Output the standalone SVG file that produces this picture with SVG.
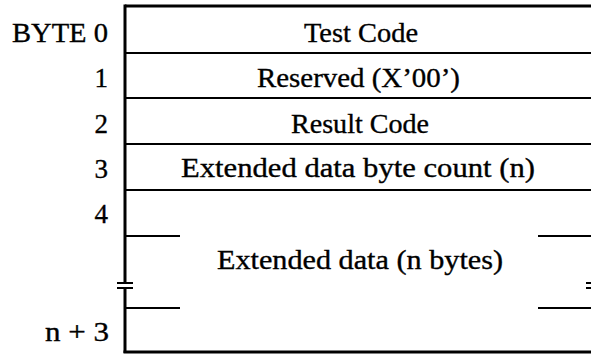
<svg xmlns="http://www.w3.org/2000/svg" width="591" height="354" viewBox="0 0 591 354">
<style>
  text { font-family: "Liberation Serif", "Times New Roman", serif; font-size: 27px; fill: #000; stroke: #000; stroke-width: 0.35; }
  .c { text-anchor: middle; }
  .r { text-anchor: end; }
  .outer { stroke: #000; stroke-width: 3; fill: none; }
  .inner { stroke: #000; stroke-width: 2; fill: none; }
</style>
<rect width="591" height="354" fill="#fff"/>
<g id="connectors">
  <path class="outer" d="M125 6 H591"/>
  <path class="outer" d="M125 4.5 V283"/>
  <path class="outer" d="M125 288 V353"/>
  <path class="outer" d="M123.5 352 H591"/>
  <path class="inner" d="M117 283 H133 M117 288 H133"/>
  <path class="inner" d="M586 283 H591 M586 288 H591"/>
</g>
<g id="byte0">
  <text class="r" x="108" y="42" textLength="96" lengthAdjust="spacingAndGlyphs">BYTE 0</text>
  <text class="c" x="361" y="42" textLength="114" lengthAdjust="spacingAndGlyphs">Test Code</text>
  <path class="inner" d="M125 53 H591"/>
</g>
<g id="byte1">
  <text class="r" x="108" y="87">1</text>
  <text class="c" x="358.5" y="87" textLength="203" lengthAdjust="spacingAndGlyphs">Reserved (X’00’)</text>
  <path class="inner" d="M125 98 H591"/>
</g>
<g id="byte2">
  <text class="r" x="108" y="133">2</text>
  <text class="c" x="360" y="133" textLength="138" lengthAdjust="spacingAndGlyphs">Result Code</text>
  <path class="inner" d="M125 144 H591"/>
</g>
<g id="byte3">
  <text class="r" x="108" y="178">3</text>
  <text class="c" x="358" y="177" textLength="354" lengthAdjust="spacingAndGlyphs">Extended data byte count (n)</text>
  <path class="inner" d="M125 190 H591"/>
</g>
<g id="byte4">
  <text class="r" x="108" y="223">4</text>
  <text class="c" x="360" y="269" textLength="286" lengthAdjust="spacingAndGlyphs">Extended data (n bytes)</text>
  <path class="inner" d="M125 236 H180 M538 236 H591"/>
  <path class="inner" d="M125 308 H180 M538 308 H591"/>
  <text class="r" x="109" y="341" textLength="64" lengthAdjust="spacingAndGlyphs">n + 3</text>
</g>
</svg>
